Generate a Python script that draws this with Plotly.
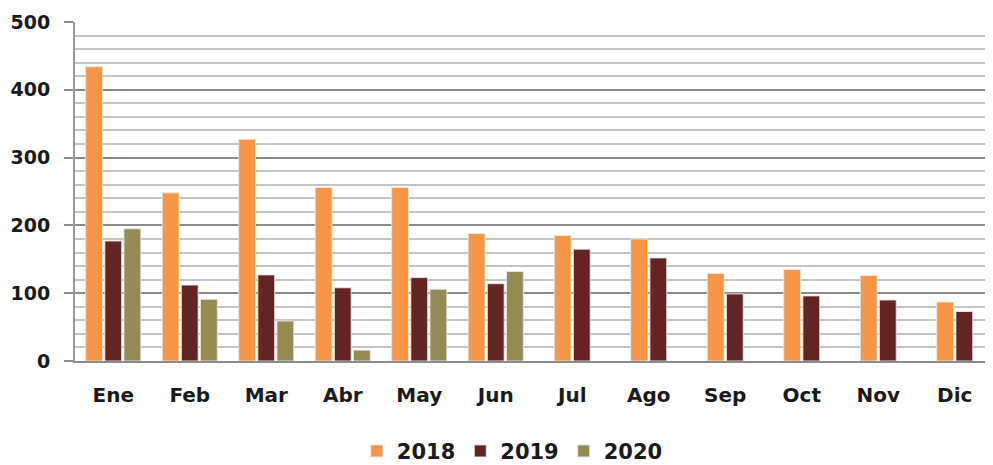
import plotly.graph_objects as go

meses = ["Ene", "Feb", "Mar", "Abr", "May", "Jun", "Jul", "Ago", "Sep", "Oct", "Nov", "Dic"]
v2018 = [434, 248, 327, 256, 256, 188, 185, 180, 129, 135, 126, 87]
v2019 = [177, 112, 127, 108, 123, 114, 165, 152, 99, 96, 90, 73]
v2020 = [195, 91, 59, 16, 106, 132, None, None, None, None, None, None]

colores = {"2018": "#F79646", "2019": "#632523", "2020": "#948A54"}

# ancho y paso de barra en unidades de categoria
ancho = 0.22
paso = 0.25

# los meses sin dato 2020 centran sus dos barras
off18, off19, off20 = [], [], []
for v in v2020:
    if v is None:
        off18.append(-paso + (paso - ancho) / 2)
        off19.append((paso - ancho) / 2)
        off20.append(0)
    else:
        off18.append(-1.5 * paso + (paso - ancho) / 2)
        off19.append(-0.5 * paso + (paso - ancho) / 2)
        off20.append(0.5 * paso + (paso - ancho) / 2)

fig = go.Figure()
for nombre, vals, offs in [("2018", v2018, off18), ("2019", v2019, off19), ("2020", v2020, off20)]:
    fig.add_trace(go.Bar(
        x=meses, y=vals, name=nombre,
        width=ancho, offset=offs,
        marker=dict(color=colores[nombre], line=dict(color="rgba(230,230,230,0.9)", width=1)),
    ))

# la pagina tiene 8px de margen en el body
fig.update_layout(
    barmode="overlay",
    width=985, height=457,
    margin=dict(l=67, r=0, t=14, b=104),
    plot_bgcolor="white", paper_bgcolor="white",
    font=dict(family="DejaVu Sans", color="#1a1a1a"),
    legend=dict(
        orientation="h", xref="container", yref="container",
        x=0.512, xanchor="center", y=0.03, yanchor="middle",
        font=dict(size=21, weight="bold"), itemwidth=30,
        traceorder="normal",
    ),
)

fig.update_yaxes(
    range=[0, 500], dtick=100, automargin=False,
    showgrid=True, gridcolor="#8c8c8c", gridwidth=2,
    minor=dict(dtick=20, showgrid=True, gridcolor="#c4c4c4", gridwidth=2),
    showline=True, linecolor="#9a9a9a", linewidth=2,
    ticks="outside", ticklen=9, tickcolor="#8c8c8c", tickwidth=2,
    tickfont=dict(size=19, weight="bold"), ticklabelstandoff=10,
    zeroline=False,
)
fig.update_xaxes(
    showline=True, linecolor="#8c8c8c", linewidth=2, automargin=False,
    tickfont=dict(size=20, weight="bold"),
    ticks="", ticklabelstandoff=15,
)

fig.write_html("out.html")
